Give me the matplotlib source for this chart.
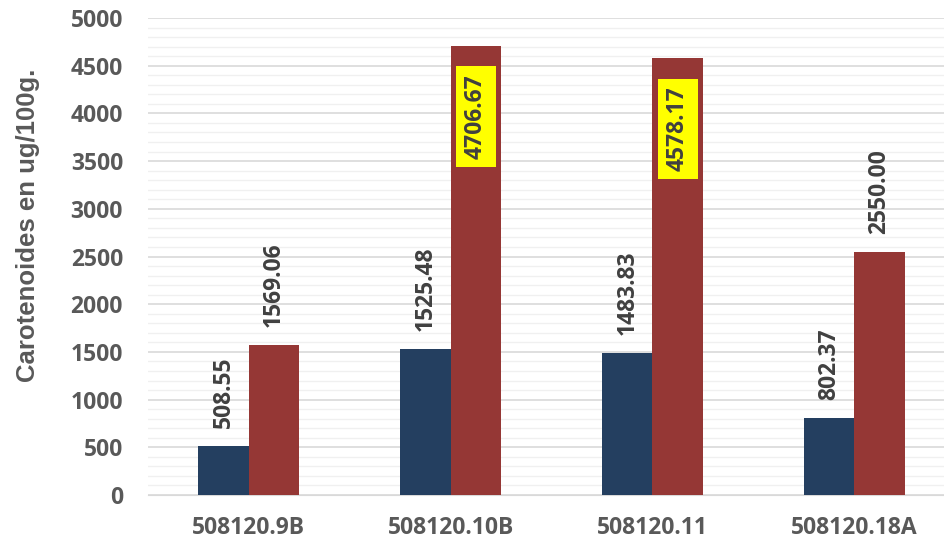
import matplotlib.pyplot as plt
import numpy as np

# data
categories = ['508120.9B', '508120.10B', '508120.11', '508120.18A']
serie_a = [508.55, 1525.48, 1483.83, 802.37]
serie_b = [1569.06, 4706.67, 4578.17, 2550.00]
yticks = list(range(0, 5001, 500))

plt.rcParams['font.family'] = ['Open Sans', 'DejaVu Sans']
plt.rcParams['font.weight'] = 'bold'

txt = '#595959'
fig = plt.figure(figsize=(9.45, 5.43), dpi=100)
ax = fig.add_axes([148 / 945, 1 - 495 / 543, 797 / 945, 477 / 543])

x = np.arange(len(categories))
w = 0.25
bars_a = ax.bar(x - w / 2, serie_a, w, color='#243F60', zorder=3)
bars_b = ax.bar(x + w / 2, serie_b, w, color='#953735', zorder=3)

# grid: light minor lines every 100, slightly darker every 500
ax.set_yticks(yticks)
ax.set_yticks(range(0, 5001, 100), minor=True)
ax.grid(axis='y', which='major', color='#d9d9d9', lw=1.2, zorder=0)
ax.grid(axis='y', which='minor', color='#f0f0f0', lw=1.0, zorder=0)
ax.set_ylim(0, 5000)
ax.set_xlim(-0.5, 3.45)

ax.set_xticks(x)
ax.set_xticklabels(categories, fontsize=16.5, color=txt, fontweight='bold')
ax.tick_params(axis='y', labelsize=16.5, colors=txt, length=0, pad=18)
ax.tick_params(axis='x', length=0, pad=15)
ax.tick_params(axis='y', which='minor', length=0)
for s in ['top', 'right', 'left']:
    ax.spines[s].set_visible(False)
ax.spines['bottom'].set_color('#d9d9d9')
fig.text(28 / 945, 1 - 225 / 543, 'Carotenoides en ug/100g.', rotation=90,
         ha='center', va='center', fontsize=18.5, color=txt, fontweight='bold',
         family=['Liberation Sans', 'DejaVu Sans'])

# value labels
lab_col = '#404040'
for b, v in zip(list(bars_a) + list(bars_b), serie_a + serie_b):
    cx = b.get_x() + b.get_width() / 2
    if v > 4000:
        ax.annotate(f'{v:.2f}', (cx, v), xytext=(0, -20.5), textcoords='offset points',
                    rotation=90, ha='center', va='top', fontsize=16.5,
                    fontweight='bold', color=lab_col, zorder=5,
                    bbox=dict(boxstyle='square,pad=0.35', fc='#ffff00', ec='none'))
    else:
        ax.annotate(f'{v:.2f}', (cx, v), xytext=(0, 13), textcoords='offset points',
                    rotation=90, ha='center', va='bottom', fontsize=16.5,
                    fontweight='bold', color=lab_col, zorder=5)

fig.savefig('out.png', dpi=100)
